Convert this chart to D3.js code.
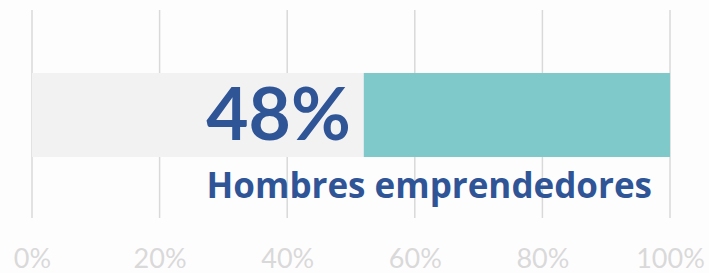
<!DOCTYPE html>
<html>
<head>
<meta charset="utf-8">
<script src="https://cdn.jsdelivr.net/npm/d3@7"></script>
<style>
  html, body { margin: 0; padding: 0; background: #fefdfe; }
  svg { display: block; }
</style>
</head>
<body>
<svg id="chart"></svg>
<script>
const width = 709, height = 273;
const margin = { top: 10, right: 39, bottom: 55, left: 32 };

// Data
const segments = ["resto", "hombres"];
const segmentValues = [52, 48];
const segmentColors = ["#f2f2f2", "#80c9ca"];
const tickValues = [0, 20, 40, 60, 80, 100];
const bigLabel = "48%";
const subLabel = "Hombres emprendedores";

const plotWidth = width - margin.left - margin.right;
const plotHeight = height - margin.top - margin.bottom;

const svg = d3.select("#chart")
    .attr("width", width)
    .attr("height", height);

const g = svg.append("g")
    .attr("transform", `translate(${margin.left},${margin.top})`);

const xScale = d3.scaleLinear().domain([0, 100]).range([0, plotWidth]);

// Gridlines
g.append("g")
    .selectAll("line")
    .data(tickValues)
    .enter()
    .append("line")
    .attr("x1", d => xScale(d))
    .attr("x2", d => xScale(d))
    .attr("y1", 0)
    .attr("y2", plotHeight)
    .attr("stroke", "#d9d9d9")
    .attr("stroke-width", 1.5);

// Stacked bar
let acc = 0;
const stacked = segmentValues.map((v, i) => {
    const s = { key: segments[i], x0: acc, x1: acc + v, color: segmentColors[i] };
    acc += v;
    return s;
});

const barTop = 63, barH = 84;
g.append("g")
    .selectAll("rect")
    .data(stacked)
    .enter()
    .append("rect")
    .attr("x", d => xScale(d.x0))
    .attr("width", d => xScale(d.x1) - xScale(d.x0))
    .attr("y", barTop)
    .attr("height", barH)
    .attr("fill", d => d.color);

// Labels
g.append("text")
    .attr("x", xScale(stacked[0].x1) - 13)
    .attr("y", 130)
    .attr("text-anchor", "end")
    .attr("font-family", "Lato, 'Open Sans', sans-serif")
    .attr("font-weight", "bold")
    .attr("font-size", 73)
    .attr("fill", "#2f5597")
    .text(bigLabel);

g.append("text")
    .attr("x", xScale(100) - 18)
    .attr("y", 188)
    .attr("text-anchor", "end")
    .attr("font-family", "'Open Sans', Lato, sans-serif")
    .attr("font-weight", "bold")
    .attr("font-size", 35)
    .attr("fill", "#2f5597")
    .text(subLabel);

// X axis labels
const axis = g.append("g")
    .attr("transform", `translate(0,${plotHeight})`)
    .call(d3.axisBottom(xScale).tickValues(tickValues).tickFormat(d => d + "%").tickSize(0).tickPadding(0));
axis.select(".domain").remove();
axis.selectAll("text")
    .attr("dy", 0)
    .attr("y", 50)
    .attr("font-family", "Lato, 'Open Sans', sans-serif")
    .attr("font-size", 27)
    .attr("fill", "#d9d9d9");
</script>
</body>
</html>
